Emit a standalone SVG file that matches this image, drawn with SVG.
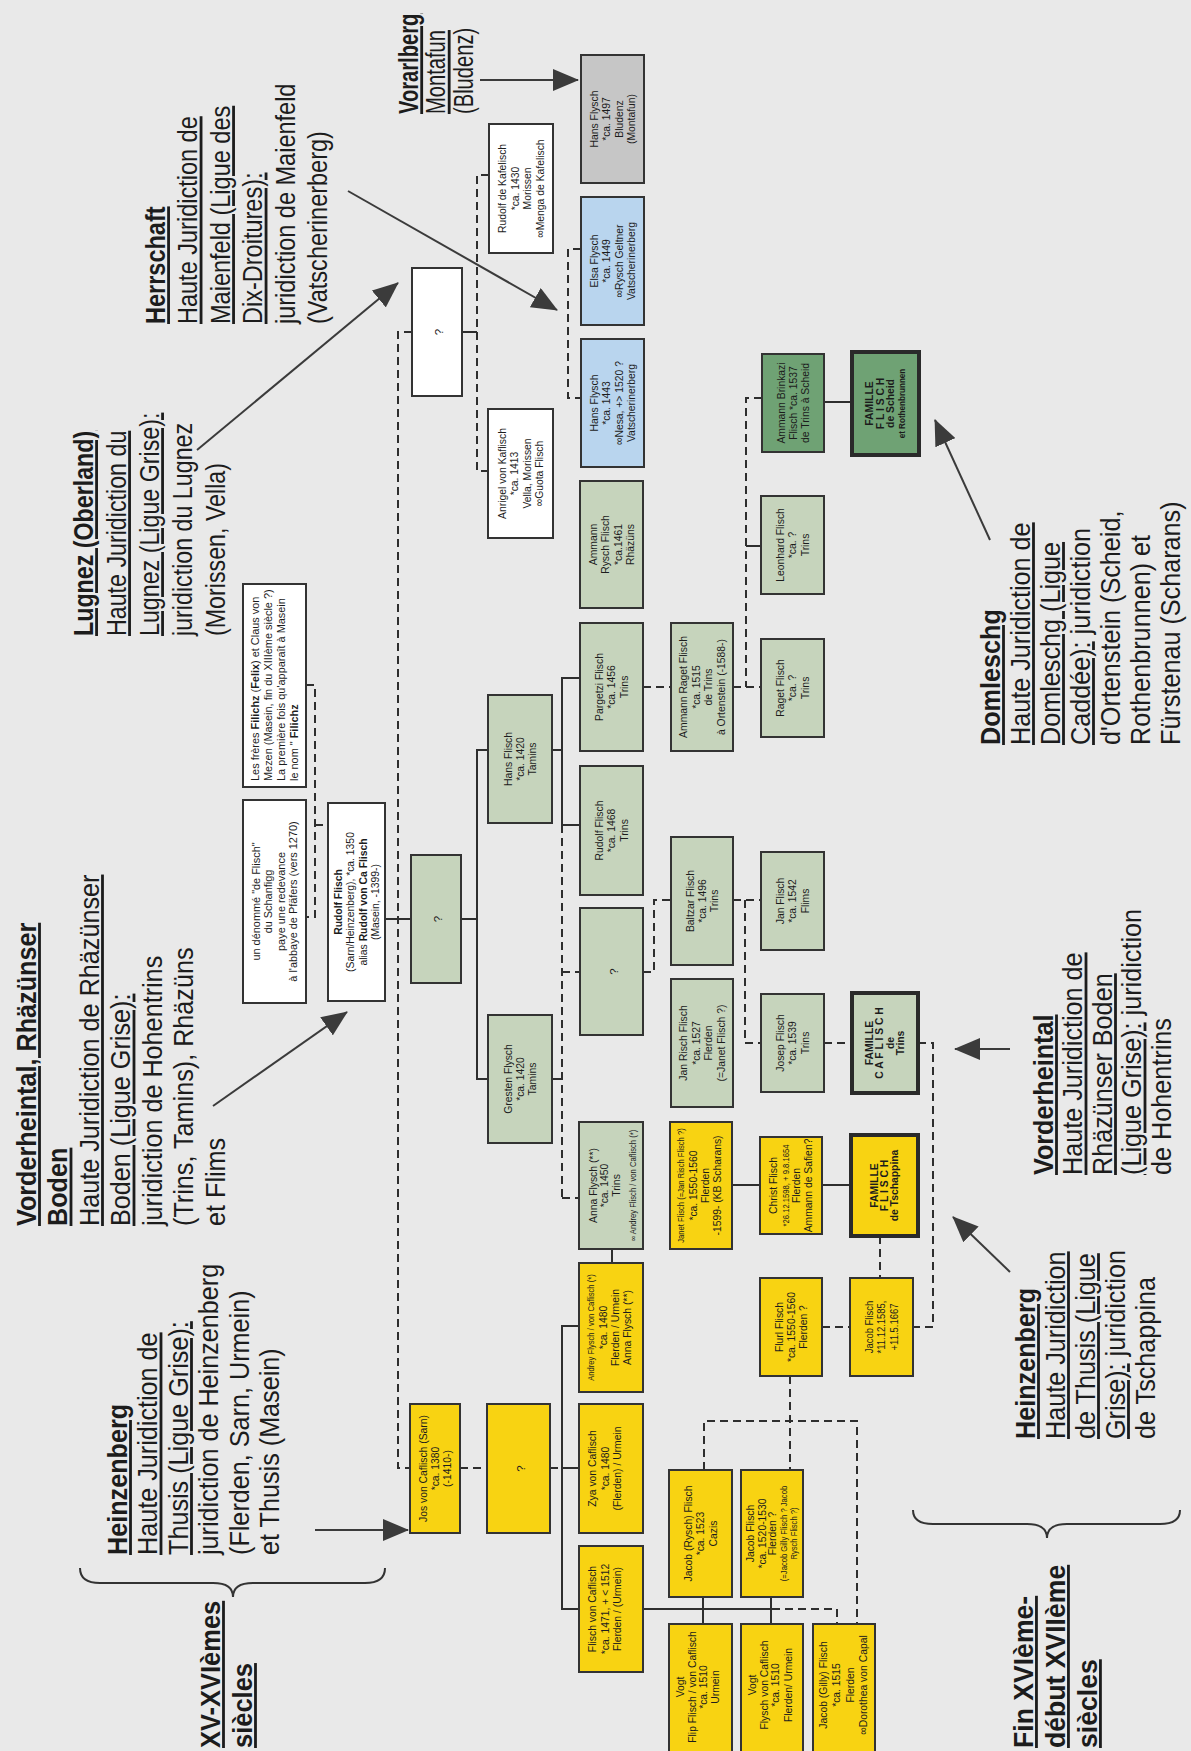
<svg xmlns="http://www.w3.org/2000/svg" width="1191" height="1751" viewBox="0 0 1191 1751">
<defs>
<marker id="ah" viewBox="0 0 26 22" refX="25" refY="11" markerWidth="26" markerHeight="22" markerUnits="userSpaceOnUse" orient="auto"><path d="M0,0 L26,11 L0,22 z" fill="#3b3b3b"/></marker>
</defs>
<style>
text{font-family:"Liberation Sans",Arial,sans-serif;fill:#1c1c1c}
.lbl{font-size:28px}
.b{font-weight:bold}
.u{text-decoration:underline}
.bx text{font-size:11.5px}
.s{font-size:8.5px}
.q{font-size:19px}
.fm{font-size:10px;font-weight:bold}
.bx rect{stroke:#333;stroke-width:2}
.w{fill:#fff}
.g{fill:#c6d4bc}
.dg{fill:#6fa274}
.bl{fill:#b9d5ee}
.gr{fill:#c6c6c6}
.y{fill:#f8d312}
.bx rect.fam{stroke-width:4;stroke:#2a2a2a}
.c line,.c polyline{stroke:#2e2e2e;stroke-width:2;fill:none}
.c .d{stroke-dasharray:8 5}
.ar line{stroke:#3b3b3b;stroke-width:2;marker-end:url(#ah)}
.br{fill:none;stroke:#333;stroke-width:2}
</style>
<rect width="1191" height="1751" fill="#e9e9e9"/>

<g id="labels">
<g id="t-vorarlberg"><text class="lbl" transform="translate(418,114) rotate(-90) scale(0.72,1)"><tspan x="0" class="b u">Vorarlberg</tspan><tspan x="0" dy="27.5" class="u">Montafun</tspan><tspan x="0" dy="27.5">(Bludenz)</tspan></text></g>
<g id="t-herrschaft"><text class="lbl" transform="translate(165,324) rotate(-90) scale(0.84,1)"><tspan x="0" class="b u">Herrschaft</tspan><tspan x="0" dy="32.5" class="u">Haute Juridiction de</tspan><tspan x="0" dy="32.5" class="u">Maienfeld (Ligue des</tspan><tspan x="0" dy="32.5" class="u">Dix-Droitures):</tspan><tspan x="0" dy="32.5">juridiction de Maienfeld</tspan><tspan x="0" dy="32.5">(Vatscherinerberg)</tspan></text></g>
<g id="t-lugnez"><text class="lbl" transform="translate(93,636) rotate(-90) scale(0.83,1)"><tspan x="0" class="b u">Lugnez (Oberland)</tspan><tspan x="0" dy="33" class="u">Haute Juridiction du</tspan><tspan x="0" dy="33" class="u">Lugnez (Ligue Grise):</tspan><tspan x="0" dy="33">juridiction du Lugnez</tspan><tspan x="0" dy="33">(Morissen, Vella)</tspan></text></g>
<g id="t-vorderheintal1"><text class="lbl" transform="translate(36,1226) rotate(-90) scale(0.9,1)"><tspan x="0" class="b u">Vorderheintal, Rhäzünser</tspan><tspan x="0" dy="31.5" class="b u">Boden</tspan><tspan x="0" dy="31.5" class="u">Haute Juridiction de Rhäzünser</tspan><tspan x="0" dy="31.5" class="u">Boden (Ligue Grise):</tspan><tspan x="0" dy="31.5">juridiction de Hohentrins</tspan><tspan x="0" dy="31.5">(Trins, Tamins), Rhäzüns</tspan><tspan x="0" dy="31.5">et Flims</tspan></text></g>
<g id="t-heinzenberg1"><text class="lbl" transform="translate(127,1555) rotate(-90) scale(0.9,1)"><tspan x="0" class="b u">Heinzenberg</tspan><tspan x="0" dy="30.5" class="u">Haute Juridiction de</tspan><tspan x="0" dy="30.5" class="u">Thusis (Ligue Grise):</tspan><tspan x="0" dy="30.5">juridiction de Heinzenberg</tspan><tspan x="0" dy="30.5">(Flerden, Sarn, Urmein)</tspan><tspan x="0" dy="30.5">et Thusis (Masein)</tspan></text></g>
<g id="t-xv"><text class="lbl b" transform="translate(220,1748) rotate(-90) scale(0.91,1)"><tspan x="0" class="u">XV-XVIèmes</tspan><tspan x="0" dy="32" class="u">siècles</tspan></text></g>
<g id="t-domleschg"><text class="lbl" transform="translate(1000,745) rotate(-90) scale(0.9,1)"><tspan x="0" class="b u">Domleschg</tspan><tspan x="0" dy="30" class="u">Haute Juridiction de</tspan><tspan x="0" dy="30" class="u">Domleschg (Ligue</tspan><tspan x="0" dy="30"><tspan class="u">Caddée):</tspan> juridiction</tspan><tspan x="0" dy="30">d'Ortenstein (Scheid,</tspan><tspan x="0" dy="30">Rothenbrunnen) et</tspan><tspan x="0" dy="30">Fürstenau (Scharans)</tspan></text></g>
<g id="t-vorderheintal2"><text class="lbl" transform="translate(1053,1175) rotate(-90) scale(0.9,1)"><tspan x="0" class="b u">Vorderheintal</tspan><tspan x="0" dy="29.5" class="u">Haute Juridiction de</tspan><tspan x="0" dy="29.5" class="u">Rhäzünser Boden</tspan><tspan x="0" dy="29.5"><tspan class="u">(Ligue Grise):</tspan> juridiction</tspan><tspan x="0" dy="29.5">de Hohentrins</tspan></text></g>
<g id="t-heinzenberg2"><text class="lbl" transform="translate(1035,1439) rotate(-90) scale(0.9,1)"><tspan x="0" class="b u">Heinzenberg</tspan><tspan x="0" dy="30" class="u">Haute Juridiction</tspan><tspan x="0" dy="30" class="u">de Thusis (Ligue</tspan><tspan x="0" dy="30"><tspan class="u">Grise):</tspan> juridiction</tspan><tspan x="0" dy="30">de Tschappina</tspan></text></g>
<g id="t-fin"><text class="lbl b" transform="translate(1033,1748) rotate(-90) scale(0.95,1)"><tspan x="0" class="u">Fin XVIème-</tspan><tspan x="0" dy="32" class="u">début XVIIème</tspan><tspan x="0" dy="32" class="u">siècles</tspan></text></g>
<path class="br" d="M80,1568 Q80,1583 100,1583 L213,1583 Q233,1583 233,1597 Q233,1583 253,1583 L365,1583 Q385,1583 385,1568"/>
<path class="br" d="M913,1510 Q913,1524 933,1524 L1027,1524 Q1047,1524 1047,1538 Q1047,1524 1067,1524 L1160,1524 Q1180,1524 1180,1510"/>
</g>

<g id="connectors" class="c">
<polyline class="d" points="412,332 398,332 398,1468 410,1468"/>
<line x1="385" y1="919" x2="411" y2="919"/>
<polyline class="d" points="306,685 315,685 315,917 306,917"/>
<line class="d" x1="315" y1="825" x2="328" y2="825"/>
<line x1="462" y1="332" x2="477" y2="332"/>
<polyline class="d" points="489,175 477,175 477,471 488,471"/>
<polyline class="d" points="581,249 568,249 568,398 581,398"/>
<line x1="461" y1="919" x2="477" y2="919"/>
<polyline points="488,750 477,750 477,1079 488,1079"/>
<line x1="552" y1="750" x2="562" y2="750"/>
<polyline points="580,678 562,678 562,825 580,825"/>
<line class="d" x1="562" y1="825" x2="562" y2="1198"/>
<line class="d" x1="562" y1="972" x2="580" y2="972"/>
<line x1="552" y1="1079" x2="562" y2="1079"/>
<line class="d" x1="562" y1="1198" x2="579" y2="1198"/>
<line class="d" x1="460" y1="1468" x2="487" y2="1468"/>
<line class="d" x1="550" y1="1468" x2="562" y2="1468"/>
<polyline points="579,1326 562,1326 562,1609 579,1609"/>
<line x1="562" y1="1468" x2="579" y2="1468"/>
<line x1="612" y1="1249" x2="612" y2="1263"/>
<line x1="643" y1="1609" x2="772" y2="1609"/>
<polyline class="d" points="772,1609 837,1609 837,1624"/>
<line x1="703" y1="1597" x2="703" y2="1624"/>
<line x1="771" y1="1597" x2="771" y2="1624"/>
<polyline class="d" points="704,1470 704,1421 857,1421 857,1624"/>
<line class="d" x1="790" y1="1376" x2="790" y2="1470"/>
<line class="d" x1="822" y1="1327" x2="850" y2="1327"/>
<line class="d" x1="880" y1="1236" x2="880" y2="1278"/>
<line x1="822" y1="1185" x2="851" y2="1185"/>
<line x1="732" y1="1185" x2="760" y2="1185"/>
<polyline class="d" points="918,1043 933,1043 933,1327 913,1327"/>
<line class="d" x1="824" y1="1043" x2="852" y2="1043"/>
<polyline class="d" points="733,900 761,900"/>
<polyline class="d" points="745,900 745,1043 761,1043"/>
<polyline class="d" points="643,972 654,972 654,900 671,900"/>
<line class="d" x1="643" y1="687" x2="671" y2="687"/>
<line class="d" x1="733" y1="687" x2="761" y2="687"/>
<polyline class="d" points="762,398 746,398 746,687"/>
<line x1="746" y1="546" x2="761" y2="546"/>
<line x1="824" y1="402" x2="852" y2="402"/>
</g>

<g id="arrows" class="ar">
<line x1="480" y1="80" x2="578" y2="80"/>
<line x1="348" y1="191" x2="557" y2="310"/>
<line x1="197" y1="450" x2="398" y2="283"/>
<line x1="213" y1="1106" x2="347" y2="1012"/>
<line x1="315" y1="1530" x2="408" y2="1530"/>
<line x1="990" y1="540" x2="935" y2="420"/>
<line x1="1010" y1="1049" x2="955" y2="1049"/>
<line x1="1010" y1="1272" x2="953" y2="1217"/>
</g>

<g id="nodes" class="bx">
<g id="n-hans-bludenz"><rect class="gr" x="581" y="55" width="63" height="128"/><text transform="translate(597.8,119) rotate(-90) scale(0.9,1)" text-anchor="middle"><tspan x="0">Hans Flysch</tspan><tspan x="0" dy="12.5">*ca. 1497</tspan><tspan x="0" dy="12.5">Bludenz</tspan><tspan x="0" dy="12.5">(Montafun)</tspan></text></g>
<g id="n-rudolf-kafelisch"><rect class="w" x="489" y="124" width="64" height="129"/><text transform="translate(506.3,188.5) rotate(-90) scale(0.9,1)" text-anchor="middle"><tspan x="0">Rudolf de Kafelisch</tspan><tspan x="0" dy="12.5">*ca. 1430</tspan><tspan x="0" dy="12.5">Morissen</tspan><tspan x="0" dy="12.5">∞Menga de Kafelisch</tspan></text></g>
<g id="n-elsa"><rect class="bl" x="581" y="197" width="63" height="128"/><text transform="translate(597.8,261) rotate(-90) scale(0.9,1)" text-anchor="middle"><tspan x="0">Elsa Flysch</tspan><tspan x="0" dy="12.5">*ca. 1449</tspan><tspan x="0" dy="12.5">∞Rysch Geltner</tspan><tspan x="0" dy="12.5">Vatscherinerberg</tspan></text></g>
<g id="n-q1"><rect class="w" x="412" y="268" width="50" height="128"/><text class="q" transform="translate(443,332) rotate(-90)" text-anchor="middle">?</text></g>
<g id="n-hans-vatsch"><rect class="bl" x="581" y="339" width="63" height="128"/><text transform="translate(597.8,403) rotate(-90) scale(0.9,1)" text-anchor="middle"><tspan x="0">Hans Flysch</tspan><tspan x="0" dy="12.5">*ca. 1443</tspan><tspan x="0" dy="12.5">∞Nesa, +&gt; 1520 ?</tspan><tspan x="0" dy="12.5">Vatscherinerberg</tspan></text></g>
<g id="n-anrigel"><rect class="w" x="488" y="409" width="65" height="129"/><text transform="translate(506,473.5) rotate(-90) scale(0.9,1)" text-anchor="middle"><tspan x="0">Anrigel von Kaflisch</tspan><tspan x="0" dy="12.5">*ca. 1413</tspan><tspan x="0" dy="12.5">Vella, Morissen</tspan><tspan x="0" dy="12.5">∞Guota Flisch</tspan></text></g>
<g id="n-ammann-rysch"><rect class="g" x="580" y="481" width="63" height="127"/><text transform="translate(596.8,544.5) rotate(-90) scale(0.9,1)" text-anchor="middle"><tspan x="0">Ammann</tspan><tspan x="0" dy="12.5">Rysch Flisch</tspan><tspan x="0" dy="12.5">*ca.1461</tspan><tspan x="0" dy="12.5">Rhäzüns</tspan></text></g>
<g id="n-brinkazi"><rect class="dg" x="762" y="354" width="62" height="98"/><text transform="translate(784.5,403) rotate(-90) scale(0.9,1)" text-anchor="middle"><tspan x="0">Ammann Brinkazi</tspan><tspan x="0" dy="12.5">Flisch *ca. 1537</tspan><tspan x="0" dy="12.5">de Trins à Scheid</tspan></text></g>
<g id="n-fam-scheid"><rect class="dg fam" x="852" y="352" width="67" height="103"/><text class="fm" transform="translate(873.3,403.5) rotate(-90) scale(0.9,1)" text-anchor="middle"><tspan x="0">FAMILLE</tspan><tspan x="0" dy="10.5">F L I S C H</tspan><tspan x="0" dy="10.5">de Scheid</tspan><tspan x="0" dy="10.5" style="font-size:9px">et Rothenbrunnen</tspan></text></g>
<g id="n-leonhard"><rect class="g" x="761" y="496" width="63" height="98"/><text transform="translate(784,545) rotate(-90) scale(0.9,1)" text-anchor="middle"><tspan x="0">Leonhard Flisch</tspan><tspan x="0" dy="12.5">*ca. ?</tspan><tspan x="0" dy="12.5">Trins</tspan></text></g>
<g id="n-les-freres"><rect class="w" x="243" y="584" width="63" height="203"/><text transform="translate(259,781) rotate(-90) scale(0.95,1)"><tspan x="0">Les frères <tspan class="b">Filichz</tspan> (<tspan class="b">Felix</tspan>) et Claus von</tspan><tspan x="0" dy="13">Mezen (Masein, fin du XIIIème siècle ?)</tspan><tspan x="0" dy="13">La première fois qu'apparaît à Masein</tspan><tspan x="0" dy="13">le nom &quot; <tspan class="b">Filichz</tspan></tspan></text></g>
<g id="n-pargetzi"><rect class="g" x="580" y="623" width="63" height="128"/><text transform="translate(603,687) rotate(-90) scale(0.9,1)" text-anchor="middle"><tspan x="0">Pargetzi Flisch</tspan><tspan x="0" dy="12.5">*ca. 1456</tspan><tspan x="0" dy="12.5">Trins</tspan></text></g>
<g id="n-ammann-raget"><rect class="g" x="671" y="623" width="62" height="128"/><text transform="translate(687.3,687) rotate(-90) scale(0.9,1)" text-anchor="middle"><tspan x="0">Ammann Raget Flisch</tspan><tspan x="0" dy="12.5">*ca. 1515</tspan><tspan x="0" dy="12.5">de Trins</tspan><tspan x="0" dy="12.5">à Ortenstein (-1588-)</tspan></text></g>
<g id="n-raget"><rect class="g" x="761" y="639" width="63" height="98"/><text transform="translate(784,688) rotate(-90) scale(0.9,1)" text-anchor="middle"><tspan x="0">Raget Flisch</tspan><tspan x="0" dy="12.5">*ca. ?</tspan><tspan x="0" dy="12.5">Trins</tspan></text></g>
<g id="n-hans-tamins"><rect class="g" x="488" y="695" width="64" height="128"/><text transform="translate(511.5,759) rotate(-90) scale(0.9,1)" text-anchor="middle"><tspan x="0">Hans Flisch</tspan><tspan x="0" dy="12.5">*ca. 1420</tspan><tspan x="0" dy="12.5">Tamins</tspan></text></g>
<g id="n-rudolf-1468"><rect class="g" x="580" y="766" width="63" height="129"/><text transform="translate(603,830.5) rotate(-90) scale(0.9,1)" text-anchor="middle"><tspan x="0">Rudolf Flisch</tspan><tspan x="0" dy="12.5">*ca. 1468</tspan><tspan x="0" dy="12.5">Trins</tspan></text></g>
<g id="n-un-denomme"><rect class="w" x="243" y="800" width="63" height="203"/><text transform="translate(259.8,901.5) rotate(-90) scale(0.95,1)" text-anchor="middle"><tspan x="0">un dénommé &quot;de Flisch&quot;</tspan><tspan x="0" dy="12.5">du Schanfigg</tspan><tspan x="0" dy="12.5">paye une redevance</tspan><tspan x="0" dy="12.5">à l'abbaye de Pfäfers (vers 1270)</tspan></text></g>
<g id="n-rudolf-sarn"><rect class="w" x="328" y="803" width="57" height="198"/><text transform="translate(341.8,902) rotate(-90) scale(0.9,1)" text-anchor="middle"><tspan x="0" class="b">Rudolf Flisch</tspan><tspan x="0" dy="12.5">(Sarn/Heinzenberg), *ca. 1350</tspan><tspan x="0" dy="12.5">alias <tspan class="b">Rudolf von Ca Flisch</tspan></tspan><tspan x="0" dy="12.5">(Masein, -1399-)</tspan></text></g>
<g id="n-baltzar"><rect class="g" x="671" y="837" width="62" height="128"/><text transform="translate(693.5,901) rotate(-90) scale(0.9,1)" text-anchor="middle"><tspan x="0">Baltzar Flisch</tspan><tspan x="0" dy="12.5">*ca. 1496</tspan><tspan x="0" dy="12.5">Trins</tspan></text></g>
<g id="n-jan-flims"><rect class="g" x="761" y="852" width="63" height="98"/><text transform="translate(784,901) rotate(-90) scale(0.9,1)" text-anchor="middle"><tspan x="0">Jan Flisch</tspan><tspan x="0" dy="12.5">*ca. 1542</tspan><tspan x="0" dy="12.5">Flims</tspan></text></g>
<g id="n-q2"><rect class="g" x="411" y="855" width="50" height="128"/><text class="q" transform="translate(442,919) rotate(-90)" text-anchor="middle">?</text></g>
<g id="n-q3"><rect class="g" x="580" y="908" width="63" height="127"/><text class="q" transform="translate(617.5,971.5) rotate(-90)" text-anchor="middle">?</text></g>
<g id="n-jan-risch"><rect class="g" x="671" y="979" width="62" height="128"/><text transform="translate(687.3,1043) rotate(-90) scale(0.9,1)" text-anchor="middle"><tspan x="0">Jan Risch Flisch</tspan><tspan x="0" dy="12.5">*ca. 1527</tspan><tspan x="0" dy="12.5">Flerden</tspan><tspan x="0" dy="12.5">(=Janet Flisch ?)</tspan></text></g>
<g id="n-josep"><rect class="g" x="761" y="994" width="63" height="98"/><text transform="translate(784,1043) rotate(-90) scale(0.9,1)" text-anchor="middle"><tspan x="0">Josep Flisch</tspan><tspan x="0" dy="12.5">*ca. 1539</tspan><tspan x="0" dy="12.5">Trins</tspan></text></g>
<g id="n-fam-caflisch"><rect class="g fam" x="852" y="993" width="66" height="100"/><text class="fm" transform="translate(872.8,1043) rotate(-90) scale(0.9,1)" text-anchor="middle"><tspan x="0">FAMILLE</tspan><tspan x="0" dy="10.5">C A F L I S C H</tspan><tspan x="0" dy="10.5">de</tspan><tspan x="0" dy="10.5">Trins</tspan></text></g>
<g id="n-gresten"><rect class="g" x="488" y="1015" width="64" height="128"/><text transform="translate(511.5,1079) rotate(-90) scale(0.9,1)" text-anchor="middle"><tspan x="0">Gresten Flysch</tspan><tspan x="0" dy="12.5">*ca. 1420</tspan><tspan x="0" dy="12.5">Tamins</tspan></text></g>
<g id="n-anna"><rect class="g" x="579" y="1122" width="64" height="127"/><text transform="translate(597,1185.5) rotate(-90) scale(0.9,1)" text-anchor="middle"><tspan x="0">Anna Flysch (**)</tspan><tspan x="0" dy="11.5">*ca. 1450</tspan><tspan x="0" dy="11.5">Trins</tspan><tspan x="0" dy="16" class="s">∞ Andrey Flisch / von Caflisch (*)</tspan></text></g>
<g id="n-janet"><rect class="y" x="670" y="1122" width="62" height="127"/><text transform="translate(684,1185.5) rotate(-90) scale(0.9,1)" text-anchor="middle"><tspan x="0" class="s">Janet Flisch (=Jan Risch Flisch ?)</tspan><tspan x="0" dy="13">*ca. 1550-1560</tspan><tspan x="0" dy="12">Flerden</tspan><tspan x="0" dy="12">-1599- (KB Scharans)</tspan></text></g>
<g id="n-christ"><rect class="y" x="760" y="1137" width="62" height="97"/><text transform="translate(777,1185.5) rotate(-90) scale(0.9,1)" text-anchor="middle"><tspan x="0">Christ Flisch</tspan><tspan x="0" dy="12" class="s">*26.12.1598, + 9.8.1654</tspan><tspan x="0" dy="11">Flerden</tspan><tspan x="0" dy="12">Ammann de Safien?</tspan></text></g>
<g id="n-fam-tschappina"><rect class="y fam" x="851" y="1135" width="67" height="101"/><text class="fm" transform="translate(877.5,1185.5) rotate(-90) scale(0.9,1)" text-anchor="middle"><tspan x="0">FAMILLE</tspan><tspan x="0" dy="10.5">F L I S C H</tspan><tspan x="0" dy="10.5">de Tschappina</tspan></text></g>
<g id="n-andrey"><rect class="y" x="579" y="1263" width="64" height="129"/><text transform="translate(594,1327.5) rotate(-90) scale(0.9,1)" text-anchor="middle"><tspan x="0" class="s">Andrey Flysch / von Caflisch (*)</tspan><tspan x="0" dy="13">*ca. 1480</tspan><tspan x="0" dy="12.5">Flerden / Urmein</tspan><tspan x="0" dy="12">Anna Flysch (**)</tspan></text></g>
<g id="n-flurl"><rect class="y" x="760" y="1278" width="62" height="98"/><text transform="translate(782.5,1327) rotate(-90) scale(0.9,1)" text-anchor="middle"><tspan x="0">Flurl Flisch</tspan><tspan x="0" dy="12.5">*ca. 1550-1560</tspan><tspan x="0" dy="12.5">Flerden ?</tspan></text></g>
<g id="n-jacob-1585"><rect class="y" x="850" y="1278" width="63" height="98"/><text transform="translate(873,1327) rotate(-90) scale(0.9,1)" text-anchor="middle" style="font-size:10.5px"><tspan x="0">Jacob Flisch</tspan><tspan x="0" dy="12.5">*11.12.1585,</tspan><tspan x="0" dy="12.5">+11.5.1667</tspan></text></g>
<g id="n-jos"><rect class="y" x="410" y="1404" width="50" height="129"/><text transform="translate(427,1468.5) rotate(-90) scale(0.9,1)" text-anchor="middle"><tspan x="0">Jos von Caflisch (Sarn)</tspan><tspan x="0" dy="12">*ca. 1380</tspan><tspan x="0" dy="12">(-1410-)</tspan></text></g>
<g id="n-q4"><rect class="y" x="487" y="1404" width="63" height="129"/><text class="q" transform="translate(524.5,1468.5) rotate(-90)" text-anchor="middle">?</text></g>
<g id="n-zya"><rect class="y" x="579" y="1404" width="64" height="129"/><text transform="translate(596.3,1468.5) rotate(-90) scale(0.9,1)" text-anchor="middle"><tspan x="0">Zya von Caflisch</tspan><tspan x="0" dy="12.5">*ca. 1480</tspan><tspan x="0" dy="12.5">(Flerden) / Urmein</tspan></text></g>
<g id="n-jacob-rysch"><rect class="y" x="669" y="1470" width="63" height="127"/><text transform="translate(692,1533.5) rotate(-90) scale(0.9,1)" text-anchor="middle"><tspan x="0">Jacob (Rysch) Flisch</tspan><tspan x="0" dy="12.5">*ca. 1523</tspan><tspan x="0" dy="12.5">Cazis</tspan></text></g>
<g id="n-jacob-1520"><rect class="y" x="741" y="1470" width="62" height="127"/><text transform="translate(754,1533.5) rotate(-90) scale(0.9,1)" text-anchor="middle"><tspan x="0">Jacob Flisch</tspan><tspan x="0" dy="12">*ca. 1520-1530</tspan><tspan x="0" dy="10.5">Flerden ?</tspan><tspan x="0" dy="11" class="s">(=Jacob Gilly Flisch ? Jacob</tspan><tspan x="0" dy="10" class="s">Rysch Flisch ?)</tspan></text></g>
<g id="n-flisch-caflisch"><rect class="y" x="579" y="1546" width="64" height="126"/><text transform="translate(596.3,1609) rotate(-90) scale(0.9,1)" text-anchor="middle"><tspan x="0">Flisch von Caflisch</tspan><tspan x="0" dy="12.5">*ca. 1471, + &lt; 1512</tspan><tspan x="0" dy="12.5">Flerden / (Urmein)</tspan></text></g>
<g id="n-vogt-flip"><rect class="y" x="669" y="1624" width="63" height="140"/><text transform="translate(684,1687) rotate(-90) scale(0.9,1)" text-anchor="middle"><tspan x="0">Vogt</tspan><tspan x="0" dy="11.7">Flip Flisch / von Caflisch</tspan><tspan x="0" dy="11.7">*ca. 1510</tspan><tspan x="0" dy="11.7">Urmein</tspan></text></g>
<g id="n-vogt-flysch"><rect class="y" x="741" y="1624" width="62" height="140"/><text transform="translate(756,1685) rotate(-90) scale(0.9,1)" text-anchor="middle"><tspan x="0">Vogt</tspan><tspan x="0" dy="11.7">Flysch von Caflisch</tspan><tspan x="0" dy="11.7">*ca. 1510</tspan><tspan x="0" dy="12.5">Flerden/ Urmein</tspan></text></g>
<g id="n-jacob-gilly"><rect class="y" x="813" y="1624" width="62" height="140"/><text transform="translate(827,1685) rotate(-90) scale(0.9,1)" text-anchor="middle"><tspan x="0">Jacob (Gilly) Flisch</tspan><tspan x="0" dy="13.5">*ca. 1515</tspan><tspan x="0" dy="13.5">Flerden</tspan><tspan x="0" dy="13.5">∞Dorothea von Capal</tspan></text></g>
</g>
</svg>
